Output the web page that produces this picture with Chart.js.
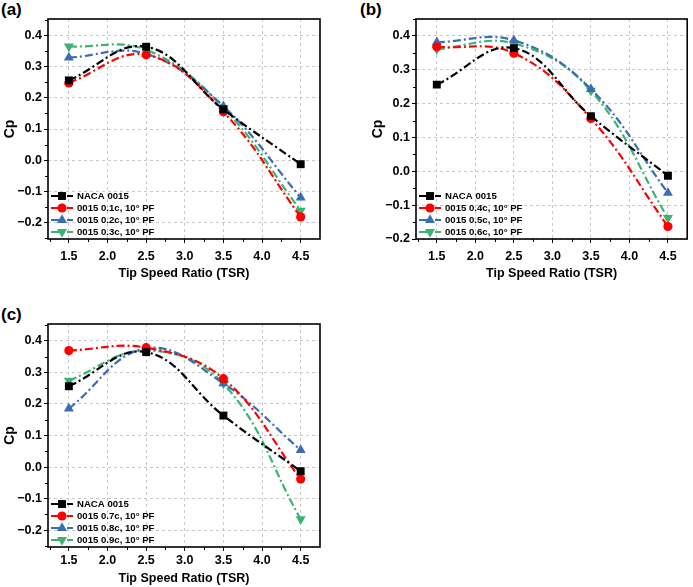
<!DOCTYPE html>
<html>
<head>
<meta charset="utf-8">
<script src="https://cdn.jsdelivr.net/npm/chart.js@4.4.1/dist/chart.umd.min.js"></script>
<style>
  html, body { margin: 0; padding: 0; background: #fff; }
  body { width: 693px; height: 587px; position: relative; overflow: hidden; font-family: "Liberation Sans", Arial, sans-serif; }
  canvas { position: absolute; }
  .tag { position: absolute; font-weight: bold; font-size: 17px; color: #000; line-height: 20px; }
</style>
</head>
<body>
<div class="tag" style="left:1px;top:0px">(a)</div>
<div class="tag" style="left:360px;top:0px">(b)</div>
<div class="tag" style="left:1px;top:305px">(c)</div>
<canvas id="chartA" width="345" height="290" style="left:0;top:0;width:345px;height:290px"></canvas>
<canvas id="chartB" width="348" height="290" style="left:345px;top:0;width:348px;height:290px"></canvas>
<canvas id="chartC" width="345" height="297" style="left:0;top:290px;width:345px;height:297px"></canvas>
<script>
// tip speed ratios where Cp was computed
const tsr = [1.5, 2.5, 3.5, 4.5];
const xTickValues = [1.5, 2.0, 2.5, 3.0, 3.5, 4.0, 4.5];
const xMinorTicks = [1.25, 1.75, 2.25, 2.75, 3.25, 3.75, 4.25, 4.75];
const yTickValues = [-0.2, -0.1, 0.0, 0.1, 0.2, 0.3, 0.4];
const yMinorTicks = [-0.25, -0.15, -0.05, 0.05, 0.15, 0.25, 0.35, 0.45];

// Cp values
const naca0015 = [0.256, 0.364, 0.163, -0.013];
const pf01c = [0.248, 0.338, 0.155, -0.182];
const pf02c = [0.329, 0.341, 0.173, -0.120];
const pf03c = [0.365, 0.354, 0.168, -0.162];
const pf04c = [0.368, 0.349, 0.156, -0.163];
const pf05c = [0.381, 0.387, 0.243, -0.064];
const pf06c = [0.361, 0.378, 0.238, -0.138];
const pf07c = [0.369, 0.378, 0.280, -0.038];
const pf08c = [0.185, 0.376, 0.265, 0.054];
const pf09c = [0.274, 0.369, 0.264, -0.165];

const labelsA = ['NACA 0015', '0015 0.1c, 10° PF', '0015 0.2c, 10° PF', '0015 0.3c, 10° PF'];
const labelsB = ['NACA 0015', '0015 0.4c, 10° PF', '0015 0.5c, 10° PF', '0015 0.6c, 10° PF'];
const labelsC = ['NACA 0015', '0015 0.7c, 10° PF', '0015 0.8c, 10° PF', '0015 0.9c, 10° PF'];

const colors = ['#000000', '#ff0000', '#3b6db4', '#3cb371'];
const markers = [
  { style: 'rect', radius: 5.6, rotation: 0 },
  { style: 'circle', radius: 4.6, rotation: 0 },
  { style: 'triangle', radius: 5.8, rotation: 0 },
  { style: 'triangle', radius: 5.8, rotation: 180 }
];
const dashPattern = [8, 3, 2, 3];
const fontFamily = '"Liberation Sans", Arial, sans-serif';

Chart.defaults.font.family = fontFamily;
Chart.defaults.color = '#000';

function fmt(v) {
  return v.toFixed(1).replace('-', '\u2212');
}

function drawMarker(ctx, m, x, y, color) {
  ctx.save();
  ctx.fillStyle = color;
  ctx.beginPath();
  if (m.style === 'rect') {
    const s = m.radius * Math.SQRT1_2;
    ctx.rect(x - s, y - s, 2 * s, 2 * s);
  } else if (m.style === 'circle') {
    ctx.arc(x, y, m.radius, 0, Math.PI * 2);
  } else {
    const r = m.radius;
    const dir = m.rotation === 180 ? -1 : 1;
    ctx.moveTo(x, y - dir * r);
    ctx.lineTo(x + r * 0.866, y + dir * r * 0.5);
    ctx.lineTo(x - r * 0.866, y + dir * r * 0.5);
    ctx.closePath();
  }
  ctx.fill();
  ctx.restore();
}

// box around the plot plus minor tick marks
const framePlugin = {
  id: 'frame',
  afterDraw(chart) {
    const { ctx, chartArea: a, scales: { x, y } } = chart;
    ctx.save();
    ctx.strokeStyle = '#000';
    ctx.lineWidth = 1;
    ctx.beginPath();
    xMinorTicks.forEach(v => {
      const px = Math.round(x.getPixelForValue(v)) + 0.5;
      if (px < a.left || px > a.right) return;
      ctx.moveTo(px, a.bottom);
      ctx.lineTo(px, a.bottom + 3);
    });
    yMinorTicks.forEach(v => {
      const py = Math.round(y.getPixelForValue(v)) + 0.5;
      if (py < a.top || py > a.bottom) return;
      ctx.moveTo(a.left, py);
      ctx.lineTo(a.left - 3, py);
    });
    ctx.stroke();
    ctx.lineWidth = 1.6;
    ctx.strokeRect(a.left, a.top, a.right - a.left, a.bottom - a.top);
    ctx.restore();
  }
};

// legend in the lower-left corner of the plot
const cornerLegend = {
  id: 'cornerLegend',
  afterDraw(chart) {
    const { ctx, chartArea: a } = chart;
    const sets = chart.data.datasets;
    ctx.save();
    ctx.font = 'bold 9.6px ' + fontFamily;
    ctx.textBaseline = 'middle';
    ctx.textAlign = 'left';
    sets.forEach((ds, i) => {
      const yy = a.bottom - 7 - 12 * (sets.length - 1 - i);
      const x0 = a.left + 3;
      ctx.strokeStyle = ds.borderColor;
      ctx.lineWidth = 2.2;
      ctx.setLineDash(dashPattern);
      ctx.beginPath();
      ctx.moveTo(x0, yy);
      ctx.lineTo(x0 + 22, yy);
      ctx.stroke();
      ctx.setLineDash([]);
      drawMarker(ctx, markers[i], x0 + 11, yy, ds.borderColor);
      ctx.fillStyle = '#000';
      ctx.fillText(ds.label, x0 + 26, yy + 0.5);
    });
    ctx.restore();
  }
};

function makeChart(id, labels, series, cfg) {
  const datasets = series.map((vals, i) => ({
    label: labels[i],
    data: tsr.map((t, j) => ({ x: t, y: vals[j] })),
    borderColor: colors[i],
    backgroundColor: colors[i],
    borderWidth: 2.2,
    borderDash: dashPattern,
    pointStyle: markers[i].style,
    pointRadius: markers[i].radius,
    pointRotation: markers[i].rotation,
    pointBorderWidth: 0,
    pointBackgroundColor: colors[i],
    tension: 0.4,
    fill: false
  }));

  return new Chart(document.getElementById(id), {
    type: 'line',
    data: { datasets },
    plugins: [framePlugin, cornerLegend],
    options: {
      responsive: false,
      animation: false,
      devicePixelRatio: 1,
      layout: { padding: cfg.padding },
      plugins: { legend: { display: false }, tooltip: { enabled: false } },
      scales: {
        x: {
          type: 'linear',
          min: 1.23,
          max: 4.75,
          afterBuildTicks: s => { s.ticks = xTickValues.map(v => ({ value: v })); },
          afterFit: s => { s.height = cfg.xAxisH; },
          ticks: { callback: v => v.toFixed(1), font: { size: 12.5, weight: 'bold' }, padding: cfg.tickPad, maxRotation: 0, autoSkip: false },
          grid: { color: '#c8c8c8', lineWidth: 1, tickLength: 4, tickColor: '#000', tickWidth: 1 },
          border: { display: false, dash: [3, 3] },
          title: { display: true, text: 'Tip Speed Ratio (TSR)', font: { size: 12.5, weight: 'bold' }, padding: { top: 0, bottom: cfg.titlePadB } }
        },
        y: {
          type: 'linear',
          min: cfg.yMin,
          max: cfg.yMax,
          afterBuildTicks: s => { s.ticks = yTickValues.map(v => ({ value: v })); },
          afterFit: s => { s.width = 48; },
          ticks: { callback: v => fmt(v), font: { size: 12.5, weight: 'bold' }, padding: 2, autoSkip: false },
          grid: { color: '#c8c8c8', lineWidth: 1, tickLength: 4, tickColor: '#000', tickWidth: 1 },
          border: { display: false, dash: [3, 3] },
          title: { display: true, text: 'Cp', font: { size: 14, weight: 'bold' }, padding: { top: 2, bottom: 0 } }
        }
      }
    }
  });
}

makeChart('chartA', labelsA, [naca0015, pf01c, pf02c, pf03c], {
  yMin: -0.253, yMax: 0.453,
  padding: { left: 0, right: 25, top: 19, bottom: 6 },
  xAxisH: 45, titlePadB: 3, tickPad: 6
});
makeChart('chartB', labelsB, [naca0015, pf04c, pf05c, pf06c], {
  yMin: -0.2, yMax: 0.45,
  padding: { left: 23, right: 4, top: 19, bottom: 6 },
  xAxisH: 45, titlePadB: 3, tickPad: 6
});
makeChart('chartC', labelsC, [naca0015, pf07c, pf08c, pf09c], {
  yMin: -0.253, yMax: 0.453,
  padding: { left: 0, right: 25, top: 34, bottom: 0 },
  xAxisH: 40, titlePadB: 1, tickPad: 2
});
</script>
</body>
</html>
